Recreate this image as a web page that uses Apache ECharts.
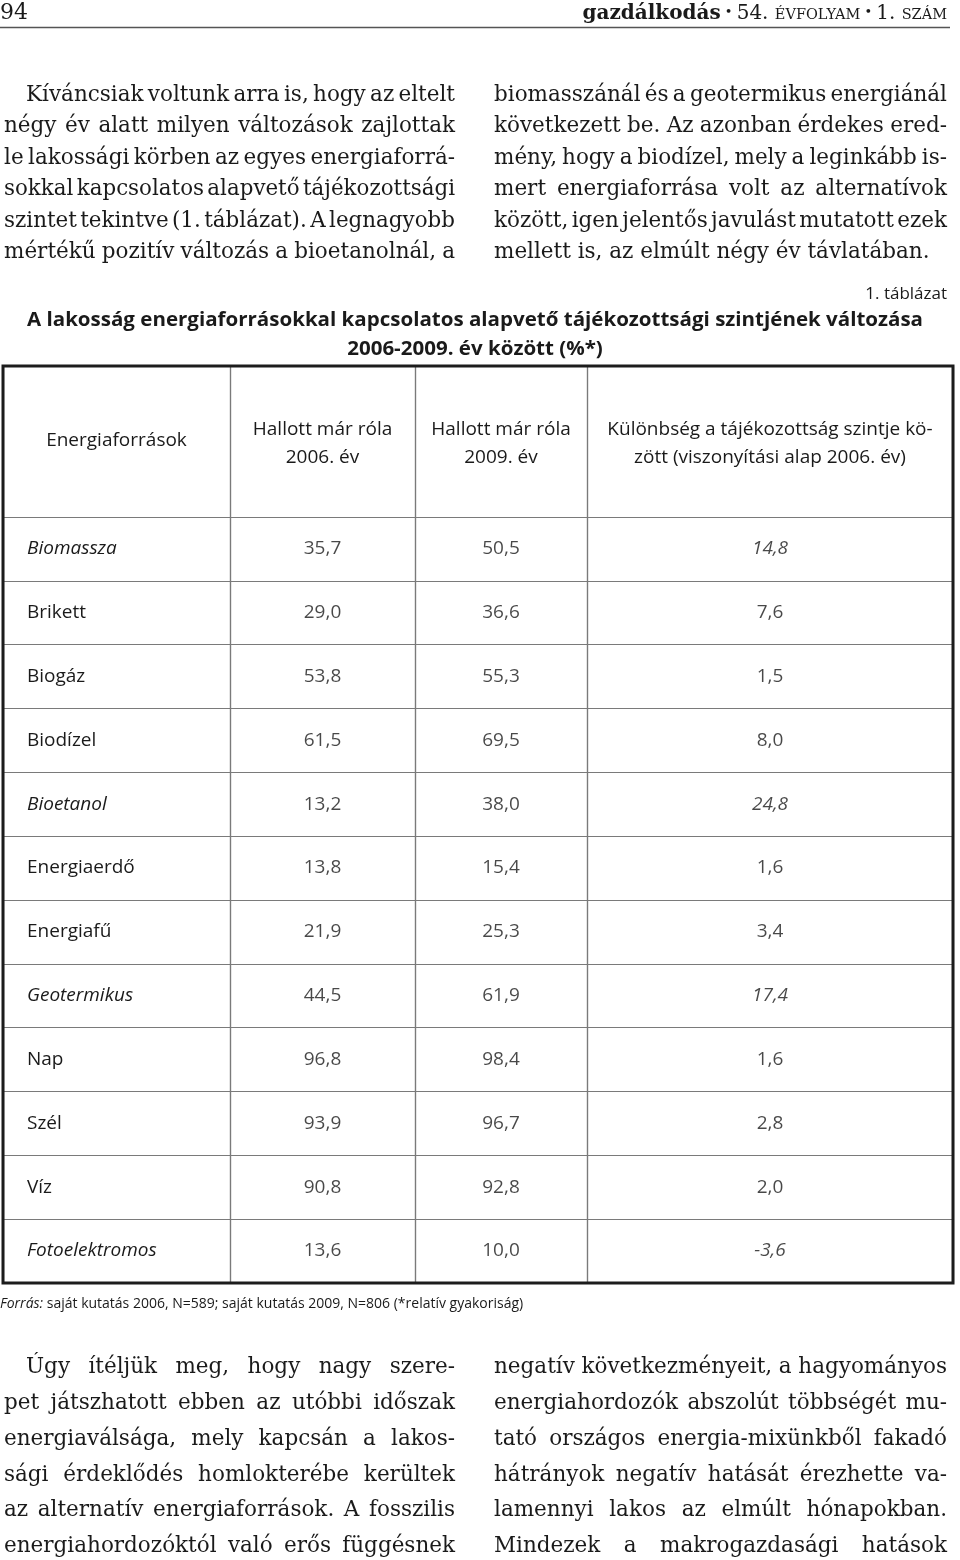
<!DOCTYPE html>
<html><head><meta charset="utf-8">
<script src="https://cdn.jsdelivr.net/npm/echarts@6/dist/echarts.min.js"></script>
<style>html,body{margin:0;padding:0;background:#fff}#c{width:960px;height:1560px}</style>
</head><body><div id="c"></div>
<script>
// ---------- DATA ----------
const sources = ['Biomassza','Brikett','Biogáz','Biodízel','Bioetanol','Energiaerdő','Energiafű','Geotermikus','Nap','Szél','Víz','Fotoelektromos'];
const heard2006 = [35.7, 29.0, 53.8, 61.5, 13.2, 13.8, 21.9, 44.5, 96.8, 93.9, 90.8, 13.6];
const heard2009 = [50.5, 36.6, 55.3, 69.5, 38.0, 15.4, 25.3, 61.9, 98.4, 96.7, 92.8, 10.0];
const difference = [14.8, 7.6, 1.5, 8.0, 24.8, 1.6, 3.4, 17.4, 1.6, 2.8, 2.0, -3.6];
const columnHeaders = ['Energiaforrások', 'Hallott már róla\n2006. év', 'Hallott már róla\n2009. év', 'Különbség a tájékozottság szintje kö-\nzött (viszonyítási alap 2006. év)'];
const italicSources = ['Biomassza','Bioetanol','Geotermikus','Fotoelektromos'];
const tableNumber = '1. táblázat';
const tableTitle = ['A lakosság energiaforrásokkal kapcsolatos alapvető tájékozottsági szintjének változása', '2006-2009. év között (%*)'];
const sourceNoteLabel = 'Forrás:';
const sourceNoteText = ' saját kutatás 2006, N=589; saját kutatás 2009, N=806 (*relatív gyakoriság)';
const pageNumber = '94';
const textTopLeft = [
  'Kíváncsiak voltunk arra is, hogy az eltelt',
  'négy év alatt milyen változások zajlottak',
  'le lakossági körben az egyes energiaforrá-',
  'sokkal kapcsolatos alapvető tájékozottsági',
  'szintet tekintve (1. táblázat). A legnagyobb',
  'mértékű pozitív változás a bioetanolnál, a'
];
const textTopRight = [
  'biomasszánál és a geotermikus energiánál',
  'következett be. Az azonban érdekes ered-',
  'mény, hogy a biodízel, mely a leginkább is-',
  'mert energiaforrása volt az alternatívok',
  'között, igen jelentős javulást mutatott ezek',
  'mellett is, az elmúlt négy év távlatában.'
];
const textBottomLeft = [
  'Úgy ítéljük meg, hogy nagy szere-',
  'pet játszhatott ebben az utóbbi időszak',
  'energiaválsága, mely kapcsán a lakos-',
  'sági érdeklődés homlokterébe kerültek',
  'az alternatív energiaforrások. A fosszilis',
  'energiahordozóktól való erős függésnek'
];
const textBottomRight = [
  'negatív következményeit, a hagyományos',
  'energiahordozók abszolút többségét mu-',
  'tató országos energia-mixünkből fakadó',
  'hátrányok negatív hatását érezhette va-',
  'lamennyi lakos az elmúlt hónapokban.',
  'Mindezek a makrogazdasági hatások'
];

// ---------- LAYOUT / STYLE ----------
const INK = '#1a1a1a';
const RULE = '#7a7a7a';
const SANS = '"Open Sans"';
const CELL_SIZE = 19;
const SERIF_FAMILY = '"DejaVu Serif"';
const SERIF_SIZE = 21.5;
const SERIF_FONT = SERIF_SIZE + 'px ' + SERIF_FAMILY;
const colEdges = [3, 230, 415, 587, 953];
const tableTop = 366, bodyTop = 517, tableBottom = 1283;

const mctx = document.createElement('canvas').getContext('2d');
function tw(t, font) { mctx.font = font; return mctx.measureText(t).width; }

function paragraph(lines, x0, x1, baseline0, step, indent, lastLeft) {
  const els = [];
  const space = tw(' ', SERIF_FONT);
  lines.forEach((line, i) => {
    const left = (i === 0 && indent) ? x0 + indent : x0;
    const y = baseline0 + step * i - SERIF_SIZE * 0.32;
    const avail = x1 - left;
    const words = line.split(' ');
    const widths = words.map(w => tw(w, SERIF_FONT));
    const sum = widths.reduce((a, b) => a + b, 0);
    const justify = !(lastLeft && i === lines.length - 1) && words.length > 1;
    const base = { fill: INK, font: SERIF_FONT, verticalAlign: 'middle', align: 'left' };
    if (!justify) {
      els.push({ type: 'text', x: left, y: y, silent: true, style: Object.assign({ text: line }, base) });
      return;
    }
    const gap = (avail - sum) / (words.length - 1);
    if (gap < space * 0.5) {
      const minGap = space * 0.5;
      const s = avail / (sum + minGap * (words.length - 1));
      let cx = left;
      words.forEach((w, k) => {
        els.push({ type: 'text', x: cx, y: y, scaleX: s, silent: true, style: Object.assign({ text: w }, base) });
        cx += (widths[k] + minGap) * s;
      });
      return;
    }
    let cx = left;
    words.forEach((w, k) => {
      els.push({ type: 'text', x: cx, y: y, silent: true, style: Object.assign({ text: w }, base) });
      cx += widths[k] + gap;
    });
  });
  return els;
}

const fmt = v => v.toFixed(1).replace('.', ',');
const isItalic = name => italicSources.indexOf(name) >= 0;

const lineStyle = { color: RULE, width: 1.2 };
const labelBase = { fontFamily: 'Open Sans', fontSize: CELL_SIZE, color: INK };

const grids = [], xAxes = [], yAxes = [], series = [];
for (let c = 0; c < 4; c++) {
  grids.push({ left: colEdges[c], width: colEdges[c + 1] - colEdges[c], top: bodyTop, height: tableBottom - bodyTop, outerBoundsMode: 'none', containLabel: false });
  xAxes.push({
    type: 'category', gridIndex: c, position: 'top', data: [columnHeaders[c]],
    axisLine: { show: true, lineStyle: lineStyle },
    axisTick: { show: true, length: bodyTop - tableTop, interval: 0, lineStyle: lineStyle },
    splitLine: { show: true, interval: 0, lineStyle: lineStyle },
    axisLabel: Object.assign({ interval: 0, margin: c === 0 ? 76 : 73, verticalAlign: 'middle', align: 'center', lineHeight: 28 }, labelBase)
  });
  yAxes.push({
    type: 'category', gridIndex: c, data: sources, inverse: true,
    axisLine: { show: false }, axisTick: { show: false },
    splitLine: { show: true, interval: 0, lineStyle: lineStyle },
    axisLabel: c === 0 ? Object.assign({
      show: true, inside: true, margin: 24, interval: 0, align: 'left',
      formatter: v => isItalic(v) ? '{i|' + v + '}' : v,
      rich: { i: { fontStyle: 'italic', fontFamily: 'Open Sans', fontSize: CELL_SIZE, color: INK } }
    }, labelBase) : { show: false }
  });
}
// outer frame grid
grids.push({ left: colEdges[0], width: colEdges[4] - colEdges[0], top: tableTop, height: tableBottom - tableTop, show: true, borderColor: '#1c1c1c', borderWidth: 3, backgroundColor: 'transparent', z: 10, outerBoundsMode: 'none' });
xAxes.push({ type: 'value', gridIndex: 4, show: false, min: 0, max: 1 });
yAxes.push({ type: 'value', gridIndex: 4, show: false, min: 0, max: 1 });

const valueColumns = [heard2006, heard2009, difference];
valueColumns.forEach((vals, k) => {
  const c = k + 1;
  series.push({
    type: 'scatter', xAxisIndex: c, yAxisIndex: c, symbolSize: 0, silent: true,
    itemStyle: { color: 'transparent' },
    data: sources.map((s, i) => [columnHeaders[c], s, vals[i]]),
    label: {
      show: true, position: 'inside', fontFamily: 'Open Sans', fontSize: CELL_SIZE, color: INK,
      formatter: p => (c === 3 && isItalic(p.value[1])) ? '{i|' + fmt(p.value[2]) + '}' : fmt(p.value[2]),
      rich: { i: { fontStyle: 'italic', fontFamily: 'Open Sans', fontSize: CELL_SIZE, color: INK } }
    }
  });
});

// ---------- GRAPHIC TEXT ----------
const graphics = [];
graphics.push({ type: 'text', x: 0, y: 24, silent: true, style: { text: pageNumber, font: '22px ' + SERIF_FAMILY, fill: INK, verticalAlign: 'bottom', align: 'left' } });
graphics.push({ type: 'text', x: 947, y: 24, silent: true, style: {
  text: '{b|gazdálkodás}{d| • }{n|54. }{s|ÉVFOLYAM}{d| • }{n|1. }{s|SZÁM}',
  align: 'right', verticalAlign: 'bottom', fill: INK,
  rich: {
    b: { fontFamily: SERIF_FAMILY, fontWeight: 'bold', fontSize: 20, fill: INK, verticalAlign: 'bottom', lineHeight: 24 },
    d: { fontFamily: SERIF_FAMILY, fontSize: 13, fill: INK, verticalAlign: 'bottom', lineHeight: 24, padding: [0, 0, 5, 0] },
    n: { fontFamily: SERIF_FAMILY, fontSize: 20, fill: INK, verticalAlign: 'bottom', lineHeight: 24 },
    s: { fontFamily: SERIF_FAMILY, fontSize: 14.5, fill: INK, verticalAlign: 'bottom', lineHeight: 24, padding: [0, 0, 1, 0] }
  }
} });
graphics.push({ type: 'line', silent: true, shape: { x1: 0, y1: 27.5, x2: 950, y2: 27.5 }, style: { stroke: '#555', lineWidth: 1.5 } });

graphics.push(...paragraph(textTopLeft, 4, 455, 102, 31.5, 22, false));
graphics.push(...paragraph(textTopRight, 494, 947, 102, 31.5, 0, true));
graphics.push(...paragraph(textBottomLeft, 4, 455, 1374.5, 35.8, 22, false));
graphics.push(...paragraph(textBottomRight, 494, 947, 1374.5, 35.8, 0, false));

graphics.push({ type: 'text', x: 947, y: 294, silent: true, style: { text: tableNumber, font: '17px ' + SANS, fill: INK, align: 'right', verticalAlign: 'middle' } });
const TITLE_FONT = 'bold 20px ' + SANS;
const titleScale = 896 / tw(tableTitle[0], TITLE_FONT);
tableTitle.forEach((t, i) => {
  graphics.push({ type: 'text', x: 475, y: 320 + i * 29, scaleX: titleScale, silent: true, style: { text: t, font: TITLE_FONT, fill: INK, align: 'center', verticalAlign: 'middle' } });
});
graphics.push({ type: 'text', x: 0, y: 1304, silent: true, style: {
  text: '{i|' + sourceNoteLabel + '}' + sourceNoteText, fontFamily: 'Open Sans', fontSize: 14, fill: INK, align: 'left', verticalAlign: 'middle',
  rich: { i: { fontFamily: 'Open Sans', fontSize: 14, fontStyle: 'italic', fill: INK } }
} });

const chart = echarts.init(document.getElementById('c'), null, { renderer: 'canvas' });
chart.setOption({
  backgroundColor: '#ffffff',
  animation: false,
  grid: grids, xAxis: xAxes, yAxis: yAxes, series: series,
  graphic: { elements: graphics }
});
</script></body></html>
